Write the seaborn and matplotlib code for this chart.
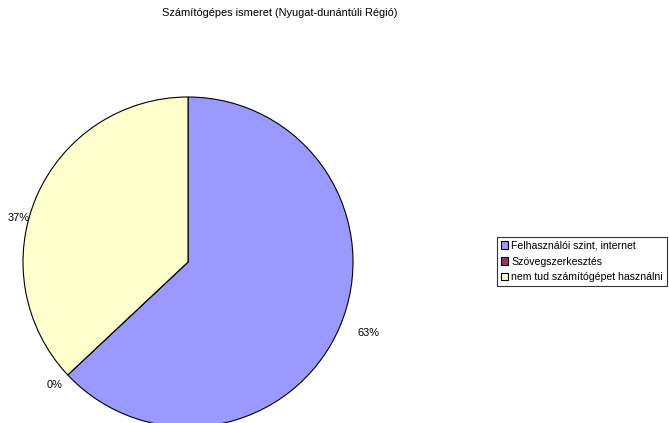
import matplotlib
matplotlib.use("Agg")
import matplotlib.pyplot as plt
import seaborn as sns
from matplotlib.patches import Patch

sns.set_theme(style="white")
plt.rcParams['font.family'] = ['Liberation Sans', 'DejaVu Sans']
plt.rcParams['text.color'] = 'black'

title = "Számítógépes ismeret (Nyugat-dunántúli Régió)"
categories = ["Felhasználói szint, internet", "Szövegszerkesztés", "nem tud számítógépet használni"]
shares = [63, 0, 37]
colors = ["#9999FF", "#993366", "#FFFFCC"]
pct_labels = ["63%", "0%", "37%"]

W, H = 669, 423
fig = plt.figure(figsize=(W / 100, H / 100), dpi=100)
fig.patch.set_facecolor("white")
ax = fig.add_axes([0, 0, 1, 1])

# pixel-like data space: x to the right, y upward
cx, cy, r = 188, H - 262, 165
wedges, _ = ax.pie(shares, colors=colors, startangle=90, counterclock=False,
                   center=(cx, cy), radius=r,
                   wedgeprops=dict(edgecolor="black", linewidth=0.8))
ax.set_xlim(0, W)
ax.set_ylim(0, H)
ax.set_aspect("equal")
ax.axis("off")

fs = 7.9
leg_fs = 7.6

# percentage labels around the pie
label_pos = [(368, 333), (55, 385), (19, 218)]
for (lx, ly), txt in zip(label_pos, pct_labels):
    ax.text(lx, H - ly, txt, ha="center", va="center", fontsize=fs, color="black")

fig.text(280 / W, 1 - 13 / H, title, ha="center", va="center", fontsize=fs, color="black")

handles = [Patch(facecolor=c, edgecolor="black", linewidth=0.8) for c in colors]
leg = fig.legend(handles, categories, loc="upper left",
                 bbox_to_anchor=(497 / W, 1 - 237 / H),
                 fontsize=leg_fs, frameon=True, fancybox=False,
                 handlelength=0.7, handleheight=0.7, handletextpad=0.3,
                 labelspacing=0.55, borderpad=0.35, borderaxespad=0,
                 labelcolor="black")
leg.get_frame().set_edgecolor("black")
leg.get_frame().set_linewidth(0.8)

fig.savefig("out.png", dpi=100, facecolor="white")
